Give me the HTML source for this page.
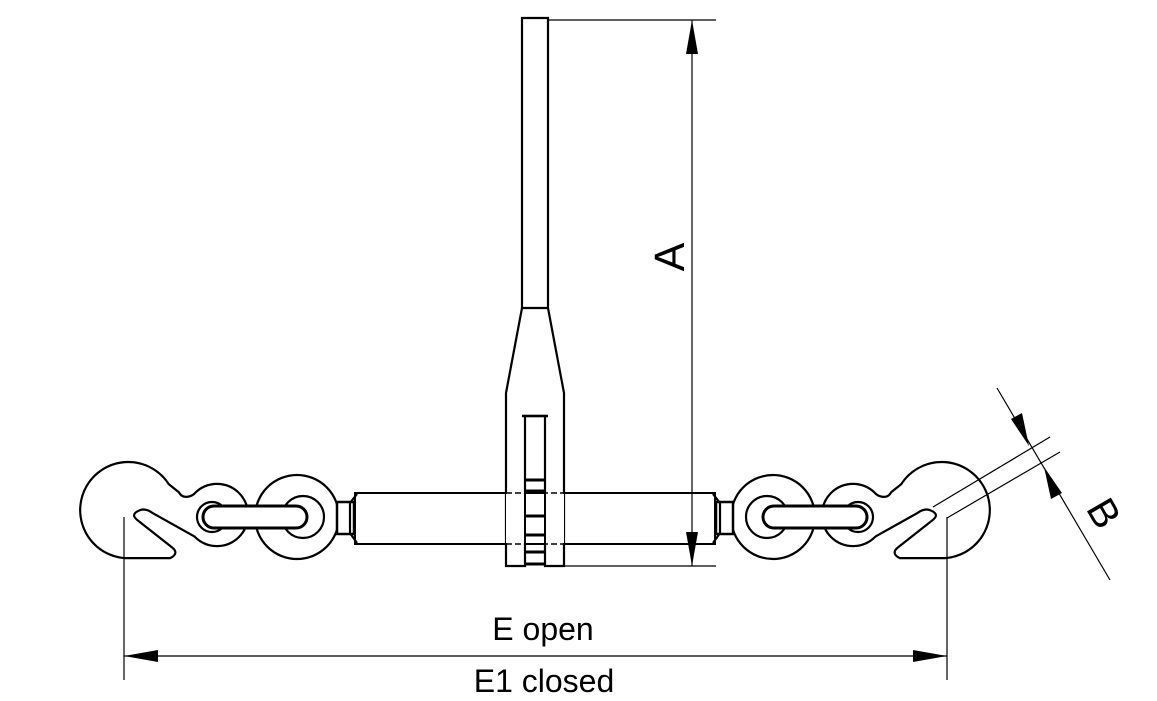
<!DOCTYPE html>
<html><head><meta charset="utf-8"><style>html,body{margin:0;padding:0;background:#fff}svg{display:block}</style></head>
<body>
<svg width="1157" height="701" viewBox="0 0 1157 701" xmlns="http://www.w3.org/2000/svg">
<defs>
<g id="side" stroke="#000">
  <path d="M168,485 A47,47 0 1 0 125,557 L170,557 Q178,553 171,548 L138,522 Q127,514 140,509 Q146,507 153,512 L203,540 L210,515 L196,494 C190,499 182,500 178,493 Z" fill="none" stroke-width="4.4"/>
  <circle cx="217" cy="515" r="30" fill="none" stroke-width="4.4"/>
  <path d="M168,485 A47,47 0 1 0 125,557 L170,557 Q178,553 171,548 L138,522 Q127,514 140,509 Q146,507 153,512 L203,540 L210,515 L196,494 C190,499 182,500 178,493 Z" fill="#fff" stroke="none"/>
  <circle cx="217" cy="515" r="30" fill="#fff" stroke="none"/>
  <g fill="#fff" stroke-width="2.2">
  <circle cx="297" cy="517" r="42"/>
  <circle cx="303" cy="517" r="21"/>
  <circle cx="212" cy="517" r="15"/>
  <rect x="203" y="506" width="104" height="22" rx="11" stroke-width="3"/>
  <rect x="337" y="502" width="17" height="32" stroke-width="2.5"/>
  <path d="M357,494 L350,503 L350,533 L357,543" fill="none"/>
  </g>
</g>
</defs>
<rect x="355" y="493" width="360" height="51" fill="#fff" stroke="#000" stroke-width="2"/>
<use href="#side"/>
<use href="#side" transform="translate(1070,0) scale(-1,1)"/>
<path d="M522,18 L548,18 L548,308 L564,393 L564,566 L545,566 L545,416 L525,416 L525,566 L506,566 L506,393 L522,308 Z" fill="#fff" stroke="#000" stroke-width="2.2"/>
<line x1="522" y1="308" x2="548" y2="308" stroke="#000" stroke-width="2.2"/>
<rect x="506" y="494" width="58" height="49" fill="#fff" stroke="none"/>
<line x1="525" y1="416" x2="525" y2="566" stroke="#000" stroke-width="2"/>
<line x1="545" y1="416" x2="545" y2="566" stroke="#000" stroke-width="2"/>
<line x1="522" y1="416" x2="548" y2="416" stroke="#000" stroke-width="2.5"/>
<g stroke="#000" stroke-width="1.5" stroke-dasharray="6,3">
<line x1="506" y1="493" x2="564" y2="493"/><line x1="506" y1="544" x2="564" y2="544"/>
</g>
<g stroke="#000" stroke-width="3">
<line x1="525" y1="480" x2="545" y2="480"/><line x1="525" y1="491" x2="545" y2="491"/>
<line x1="525" y1="516" x2="545" y2="516"/><line x1="525" y1="535" x2="545" y2="535"/>
<line x1="525" y1="552" x2="545" y2="552"/><line x1="525" y1="564" x2="545" y2="564"/>
</g>
<g stroke="#000" stroke-width="1.2">
<line x1="548" y1="20" x2="716" y2="20"/>
<line x1="564" y1="566" x2="716" y2="566"/>
<line x1="692" y1="20" x2="692" y2="566"/>
<line x1="124" y1="517" x2="124" y2="680"/>
<line x1="947" y1="517" x2="947" y2="680"/>
<line x1="124" y1="656" x2="947" y2="656"/>
<line x1="933" y1="507" x2="1050" y2="437"/>
<line x1="947" y1="518" x2="1060" y2="452"/>
<line x1="997" y1="388" x2="1110" y2="580"/>
</g>
<g fill="#000">
<polygon points="692,20 686,54 698,54"/>
<polygon points="692,566 686,532 698,532"/>
<polygon points="124,656 158,650 158,662"/>
<polygon points="947,656 913,650 913,662"/>
<polygon points="1029,446 1011,419 1022,413"/>
<polygon points="1044,467 1051,499 1062,493"/>
</g>
<g font-family="Liberation Sans, sans-serif" fill="#000">
<text transform="translate(684,257) rotate(-90)" font-size="43" text-anchor="middle">A</text>
<text x="543" y="640" font-size="32" text-anchor="middle">E open</text>
<text x="544" y="692" font-size="32" text-anchor="middle">E1 closed</text>
<text transform="translate(1092,520) rotate(60)" font-size="40" text-anchor="middle">B</text>
</g>
</svg>
</body></html>
